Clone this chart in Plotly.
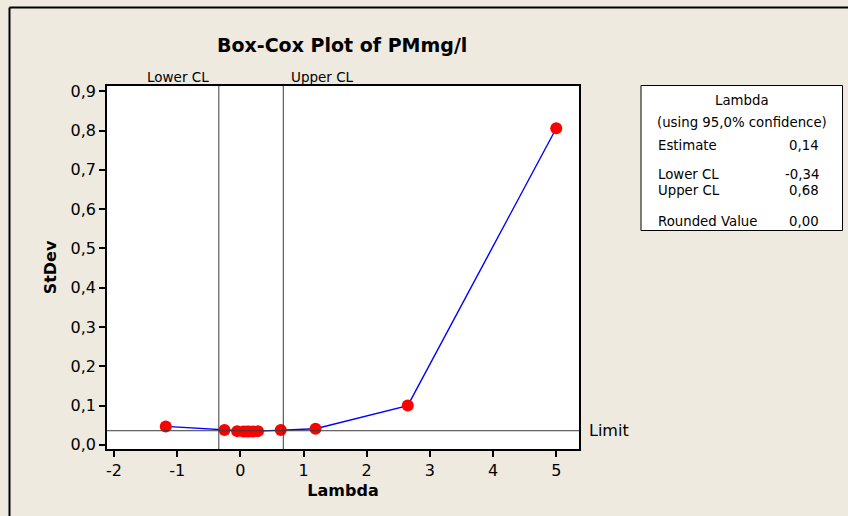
import plotly.graph_objects as go

# ---- data ----
lambdas = [-1.18, -0.25, -0.05, 0.05, 0.10, 0.14, 0.20, 0.28, 0.64, 1.19, 2.65, 5.00]
stdevs = [0.047, 0.038, 0.035, 0.034, 0.034, 0.034, 0.034, 0.035, 0.038, 0.041, 0.100, 0.806]
lower_cl = -0.34
upper_cl = 0.68
limit = 0.036

x_tick_vals = [-2, -1, 0, 1, 2, 3, 4, 5]
x_tick_text = ["-2", "-1", "0", "1", "2", "3", "4", "5"]
y_tick_vals = [0.0, 0.1, 0.2, 0.3, 0.4, 0.5, 0.6, 0.7, 0.8, 0.9]
y_tick_text = ["0,0", "0,1", "0,2", "0,3", "0,4", "0,5", "0,6", "0,7", "0,8", "0,9"]

box_header = ["Lambda", "(using 95,0% confidence)"]
box_labels = ["Estimate", "Lower CL", "Upper CL", "Rounded Value"]
box_values = ["0,14", "-0,34", "0,68", "0,00"]

# ---- layout geometry (pixels) ----
W, H = 848, 516
L, R, T, B = 107, 579, 86, 449
pw, ph = R - L, B - T

def px_x(x):
    return (x - L) / pw

def px_y(y):
    return (B - y) / ph

FONT = "DejaVu Sans"
BG = "#EEEAE0"

fig = go.Figure()
fig.add_trace(go.Scatter(
    x=lambdas, y=stdevs, mode="lines+markers",
    line=dict(color="#0000FF", width=1.4),
    marker=dict(color="#FF0000", size=12),
    showlegend=False, hoverinfo="x+y",
))

shapes = []
for v in (lower_cl, upper_cl):
    shapes.append(dict(type="line", xref="x", yref="paper", x0=v, x1=v, y0=0, y1=1,
                       line=dict(color="#3a3a3a", width=1)))
shapes.append(dict(type="line", xref="paper", yref="y", x0=0, x1=1, y0=limit, y1=limit,
                   line=dict(color="#3a3a3a", width=1)))
# outer frame (left & top)
shapes.append(dict(type="line", xref="paper", yref="paper",
                   x0=px_x(9.5), x1=px_x(9.5), y0=px_y(7.5), y1=px_y(530),
                   line=dict(color="black", width=2)))
shapes.append(dict(type="line", xref="paper", yref="paper",
                   x0=px_x(9.5), x1=px_x(870), y0=px_y(7.5), y1=px_y(7.5),
                   line=dict(color="black", width=2)))
# info box
shapes.append(dict(type="rect", xref="paper", yref="paper",
                   x0=px_x(641), x1=px_x(842.5), y0=px_y(230.5), y1=px_y(85.5),
                   line=dict(color="black", width=1), fillcolor="white", layer="below"))

ann = []
ann.append(dict(text="<b>Box-Cox Plot of PMmg/l</b>", xref="paper", yref="paper",
                x=px_x(342), y=px_y(45), showarrow=False, font=dict(family=FONT, size=19, color="black"),
                xanchor="center", yanchor="middle"))
ann.append(dict(text="Lower CL", xref="x", yref="paper", x=lower_cl, y=px_y(77),
                xanchor="right", yanchor="middle", xshift=-8, showarrow=False,
                font=dict(family=FONT, size=13.5, color="black")))
ann.append(dict(text="Upper CL", xref="x", yref="paper", x=upper_cl, y=px_y(77),
                xanchor="left", yanchor="middle", xshift=6, showarrow=False,
                font=dict(family=FONT, size=13.5, color="black")))
ann.append(dict(text="Limit", xref="paper", yref="y", x=px_x(587), y=limit,
                xanchor="left", yanchor="middle", showarrow=False,
                font=dict(family=FONT, size=16, color="black")))

cx = (641 + 842.5) / 2
for txt, yy in zip(box_header, [100.5, 122]):
    ann.append(dict(text=txt, xref="paper", yref="paper", x=px_x(cx), y=px_y(yy),
                    xanchor="center", yanchor="middle", showarrow=False,
                    font=dict(family=FONT, size=13.3, color="black")))
for lab, val, yy in zip(box_labels, box_values, [145, 174, 190, 221.5]):
    ann.append(dict(text=lab, xref="paper", yref="paper", x=px_x(656), y=px_y(yy),
                    xanchor="left", yanchor="middle", showarrow=False,
                    font=dict(family=FONT, size=13.3, color="black")))
    ann.append(dict(text=val, xref="paper", yref="paper", x=px_x(821), y=px_y(yy),
                    xanchor="right", yanchor="middle", showarrow=False,
                    font=dict(family=FONT, size=13.3, color="black")))

fig.update_layout(
    width=W, height=H,
    margin=dict(l=L, r=W - R, t=T, b=H - B, pad=0),
    paper_bgcolor=BG, plot_bgcolor="white",
    font=dict(family=FONT, size=16, color="black"),
    shapes=shapes, annotations=ann, showlegend=False,
    xaxis=dict(range=[-2.11, 5.36], tickvals=x_tick_vals, ticktext=x_tick_text,
               showgrid=False, zeroline=False, showline=True, mirror=True,
               linecolor="black", linewidth=1.5, ticks="outside", ticklen=6,
               tickcolor="black", tickwidth=1.5,
               title=dict(text="<b>Lambda</b>", font=dict(family=FONT, size=16), standoff=6)),
    yaxis=dict(range=[-0.0105, 0.9135], tickvals=y_tick_vals, ticktext=y_tick_text,
               showgrid=False, zeroline=False, showline=True, mirror=True,
               linecolor="black", linewidth=1.5, ticks="outside", ticklen=6,
               tickcolor="black", tickwidth=1.5,
               title=dict(text="<b>StDev</b>", font=dict(family=FONT, size=16), standoff=10)),
)

fig.write_html("out.html", config={"displayModeBar": False},
               post_script="document.body.style.margin='0';document.body.style.overflow='hidden';")
